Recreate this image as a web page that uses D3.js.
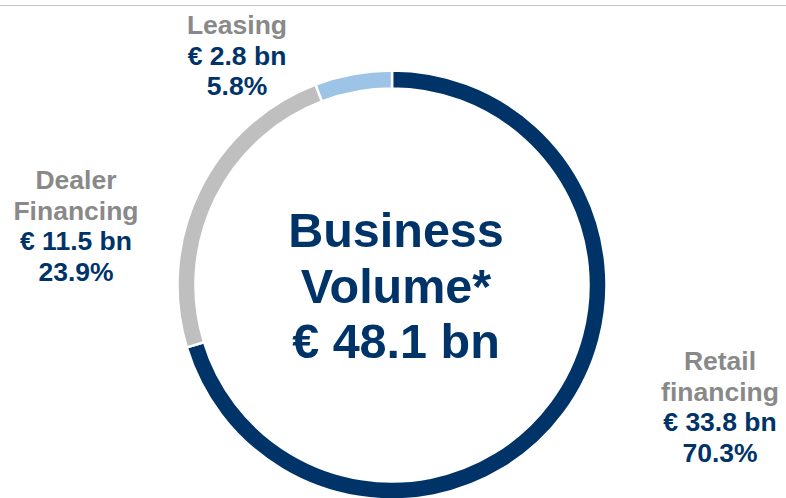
<!DOCTYPE html>
<html>
<head>
<meta charset="utf-8">
<script src="https://cdn.jsdelivr.net/npm/d3@7/dist/d3.min.js"></script>
<style>
  html, body { margin: 0; padding: 0; background: #ffffff; }
  svg { display: block; }
  text { font-family: "Liberation Sans", Arial, sans-serif; font-weight: bold; }
</style>
</head>
<body>
<svg id="chart" width="786" height="498"></svg>
<script>
// Business volume split by segment
const categories = ["Retail financing", "Dealer Financing", "Leasing"];
const categoryLines = [["Retail", "financing"], ["Dealer", "Financing"], ["Leasing"]];
const volumesBn = [33.8, 11.5, 2.8];
const shares = [70.3, 23.9, 5.8];
const totalLines = ["Business", "Volume*", "€ 48.1 bn"];

const colors = d3.scaleOrdinal()
  .domain(categories)
  .range(["#003469", "#bfbfbf", "#9dc3e6"]);

const W = 786, H = 498;
const cx = 392, cy = 285;
const rOuter = 214.5, rInner = 196.5;

const svg = d3.select("#chart");

// thin rule along the top edge
svg.append("line")
  .attr("x1", 0).attr("x2", W)
  .attr("y1", 5.5).attr("y2", 5.5)
  .attr("stroke", "#c4c4c4")
  .attr("stroke-width", 1.2);

const data = categories.map((c, i) => ({
  category: c, lines: categoryLines[i], volume: volumesBn[i], share: shares[i]
}));

const pie = d3.pie().sort(null).value(d => d.share);
const arc = d3.arc().innerRadius(rInner).outerRadius(rOuter);

const ring = svg.append("g").attr("transform", `translate(${cx},${cy})`);
ring.selectAll("path")
  .data(pie(data))
  .join("path")
  .attr("d", arc)
  .attr("fill", d => colors(d.data.category))
  .attr("stroke", "#ffffff")
  .attr("stroke-width", 2.5);

// centre caption
const centre = svg.append("g");
totalLines.forEach((t, i) => {
  centre.append("text")
    .attr("x", 396)
    .attr("y", 247 + i * 55.5)
    .attr("text-anchor", "middle")
    .attr("fill", "#003469")
    .attr("font-size", 48.5)
    .text(t);
});

// segment labels: anchor x and first baseline for each segment
const labelLayout = {
  "Retail financing": { x: 720, y: 370 },
  "Dealer Financing": { x: 76, y: 189 },
  "Leasing": { x: 237, y: 34 }
};
const lineStep = 30.5;

data.forEach(d => {
  const L = labelLayout[d.category];
  const g = svg.append("g");
  const rows = d.lines.map(t => ({ t, c: "#898989" }))
    .concat([
      { t: `€ ${d3.format(".1f")(d.volume)} bn`, c: "#003469" },
      { t: `${d3.format(".1f")(d.share)}%`, c: "#003469" }
    ]);
  rows.forEach((r, i) => {
    g.append("text")
      .attr("x", L.x)
      .attr("y", L.y + i * lineStep)
      .attr("text-anchor", "middle")
      .attr("fill", r.c)
      .attr("font-size", 26.5)
      .text(r.t);
  });
});
</script>
</body>
</html>
